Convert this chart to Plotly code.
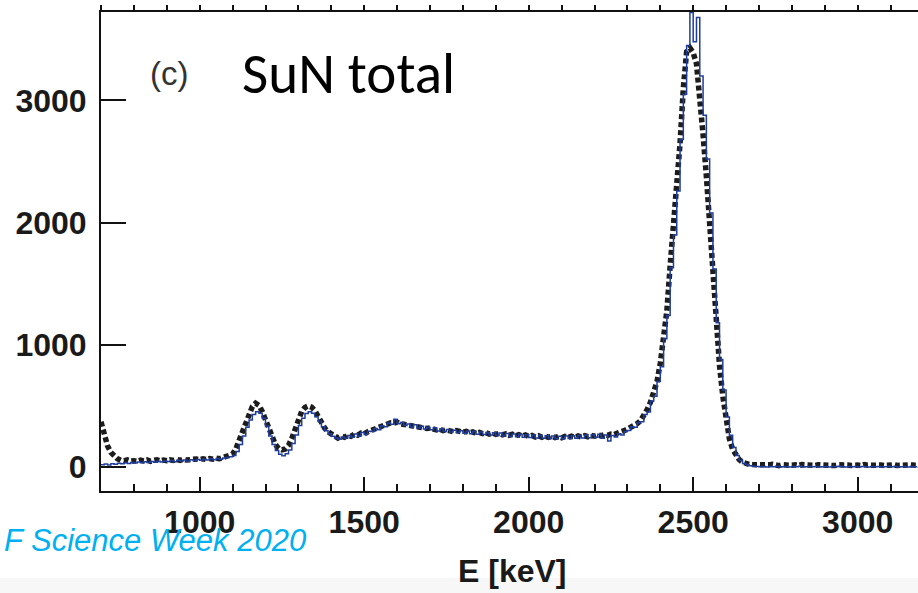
import plotly.graph_objects as go

# ---------------- data ----------------
E_START = 700   # keV, first bin
E_STEP = 10     # keV, bin width

# measured spectrum (black, dotted)
measured = [
    370, 262, 172, 120, 88, 68, 55, 50, 58, 48,
    52, 46, 56, 50, 58, 47, 55, 60, 50, 57,
    52, 60, 54, 62, 55, 64, 57, 63, 58, 66,
    60, 68, 62, 70, 64, 72, 68, 76, 80, 88,
    105, 150, 220, 300, 380, 445, 495, 522, 505, 455,
    385, 305, 235, 185, 152, 140, 148, 178, 235, 315,
    395, 455, 488, 500, 490, 462, 415, 362, 318, 288,
    268, 250, 238, 252, 244, 260, 252, 268, 260, 278,
    272, 288, 298, 308, 318, 332, 338, 352, 362, 358,
    368, 354, 348, 342, 336, 340, 328, 324, 320, 316,
    320, 310, 304, 310, 298, 304, 296, 290, 299, 288,
    285, 292, 280, 288, 276, 284, 274, 282, 270, 278,
    268, 275, 264, 272, 260, 268, 256, 265, 253, 262,
    250, 258, 246, 256, 244, 254, 243, 252, 242, 250,
    240, 250, 242, 252, 244, 254, 246, 256, 248, 258,
    252, 262, 256, 266, 260, 270, 266, 278, 284, 298,
    310, 324, 340, 356, 380, 420, 470, 530, 600, 700,
    850, 1050, 1280, 1650, 1950, 2250, 2650, 3100, 3400, 3430,
    3390, 3300, 3060, 2720, 2380, 1950, 1550, 1100, 830, 580,
    380, 230, 145, 92, 60, 40, 28, 22, 20, 18,
    15, 20, 14, 18, 22, 16, 12, 19, 15, 21,
    14, 18, 12, 20, 16, 22, 15, 13, 19, 17,
    14, 20, 16, 12, 18, 21, 15, 17, 13, 19,
    16, 12, 20, 15, 18, 14, 21, 16, 12, 18,
    15, 19, 13, 17, 20, 14, 18, 16, 15,
]

# simulated spectrum (blue histogram)
simulated = [
    18, 24, 16, 28, 22, 32, 26, 36, 30, 38,
    34, 42, 36, 44, 38, 46, 40, 48, 42, 50,
    46, 54, 44, 56, 50, 58, 48, 60, 52, 62,
    56, 64, 58, 68, 60, 70, 64, 74, 78, 84,
    95, 128, 185, 255, 325, 385, 430, 452, 440, 400,
    335, 255, 185, 135, 105, 92, 108, 140, 192, 262,
    340, 400, 438, 452, 440, 412, 372, 330, 298, 272,
    252, 238, 228, 246, 236, 258, 244, 270, 252, 282,
    266, 292, 290, 316, 306, 338, 330, 360, 350, 392,
    355, 364, 340, 352, 328, 346, 320, 334, 312, 326,
    306, 322, 296, 314, 290, 308, 286, 302, 282, 298,
    276, 294, 272, 290, 268, 286, 266, 282, 262, 280,
    258, 278, 254, 274, 250, 270, 248, 268, 244, 264,
    242, 262, 238, 258, 236, 256, 234, 254, 232, 252,
    232, 254, 234, 256, 236, 258, 238, 262, 240, 264,
    244, 268, 236, 262, 214, 258, 246, 272, 262, 290,
    300, 330, 326, 362, 370, 430, 450, 540, 580, 700,
    820, 1050, 1240, 1630, 1900, 2260, 2680, 3050, 3450, 3720,
    3480, 3680, 3200, 2880, 2520, 2080, 1620, 1180, 880, 630,
    410, 260, 160, 95, 55, 30, 18, 10, 6, 4,
    2, 5, 0, 4, 2, 6, 1, 3, 5, 0,
    4, 2, 6, 1, 3, 5, 2, 4, 0, 3,
    5, 1, 4, 2, 6, 3, 0, 4, 2, 5,
    1, 4, 3, 0, 5, 2, 4, 1, 3, 6,
    2, 4, 0, 3, 5, 1, 4, 2, 3,
]

x_tick_vals = [1000, 1500, 2000, 2500, 3000]
x_tick_text = ["1000", "1500", "2000", "2500", "3000"]
y_tick_vals = [0, 1000, 2000, 3000]
y_tick_text = ["0", "1000", "2000", "3000"]

energies = [E_START + i * E_STEP for i in range(len(measured))]
energies_sim = [E_START + i * E_STEP for i in range(len(simulated))]

# ---------------- layout geometry ----------------
W, H = 918, 593
ML, MR, MT, MB = 101, 0, 12, 102
PW, PH = W - ML - MR, H - MT - MB


def px(xp):
    return (xp - ML) / PW


def py(yp):
    return (H - MB - yp) / PH


TICKFONT = dict(family="Liberation Sans, Arial, sans-serif",
                size=32, color="#1a1a1a", weight="bold")

fig = go.Figure()
fig.add_trace(go.Scatter(
    x=energies, y=measured, mode="lines",
    line=dict(color="#1c1c1c", width=5.5, dash="5px,3px"),
    hoverinfo="skip", showlegend=False, xaxis="x", yaxis="y"))
fig.add_trace(go.Scatter(
    x=energies_sim, y=simulated, mode="lines", line_shape="hv",
    line=dict(color="#1f3d9c", width=1.5),
    hoverinfo="skip", showlegend=False, xaxis="x", yaxis="y"))
# invisible trace so the top (tick-only) axis is drawn
fig.add_trace(go.Scatter(x=[E_START], y=[0], mode="markers", marker=dict(opacity=0),
                         hoverinfo="skip", showlegend=False, xaxis="x2", yaxis="y"))

XR = [700, 700 + PW / 0.3290]
YR = [-196, 3724]

fig.update_layout(
    width=W, height=H,
    margin=dict(l=ML, r=MR, t=MT, b=MB, pad=0),
    paper_bgcolor="white", plot_bgcolor="white",
    showlegend=False,
    xaxis=dict(
        range=XR, showgrid=False, zeroline=False,
        showline=True, linecolor="#111", linewidth=2,
        ticks="inside", ticklen=14, tickwidth=2, tickcolor="#111",
        tickvals=x_tick_vals, ticktext=x_tick_text,
        tickfont=TICKFONT, ticklabelstandoff=2,
        minor=dict(ticks="inside", ticklen=7, tickwidth=2, tickcolor="#111",
                   dtick=100, tick0=0, showgrid=False),
    ),
    xaxis2=dict(
        range=XR, overlaying="x", side="top", anchor="y",
        showgrid=False, zeroline=False,
        showline=True, linecolor="#111", linewidth=2,
        ticks="outside", ticklen=5, tickwidth=2, tickcolor="#111",
        dtick=100, tick0=0, showticklabels=False,
    ),
    yaxis=dict(
        range=YR, showgrid=False, zeroline=False,
        showline=True, linecolor="#111", linewidth=2,
        ticks="inside", ticklen=25, tickwidth=2, tickcolor="#111",
        tickvals=y_tick_vals, ticktext=y_tick_text,
        tickfont=TICKFONT, ticklabelstandoff=6,
    ),
    shapes=[dict(type="rect", xref="paper", yref="paper",
                 x0=px(-5), x1=px(W + 5), y0=py(H + 5), y1=py(578),
                 fillcolor="#f7f7f7", line=dict(width=0), layer="below")],
    annotations=[
        dict(text="(c)", xref="paper", yref="paper", x=px(169), y=py(74),
             xanchor="center", yanchor="middle", showarrow=False,
             font=dict(family="Liberation Sans, Arial, sans-serif", size=33, color="#333")),
        dict(text="SuN total", xref="paper", yref="paper", x=px(240), y=py(74),
             xanchor="left", yanchor="middle", showarrow=False,
             font=dict(family="Carlito, Lato, sans-serif", size=57, color="#000")),
        dict(text="F Science Week 2020", xref="paper", yref="paper", x=px(308), y=py(540),
             xanchor="right", yanchor="middle", showarrow=False,
             font=dict(family="Liberation Sans, Arial, sans-serif", size=31, color="#00B0F0", style="italic")),
        dict(text="E [keV]", xref="paper", yref="paper", x=px(512), y=py(571),
             xanchor="center", yanchor="middle", showarrow=False,
             font=TICKFONT | dict(size=32)),
    ],
)

fig.write_html("out.html")
